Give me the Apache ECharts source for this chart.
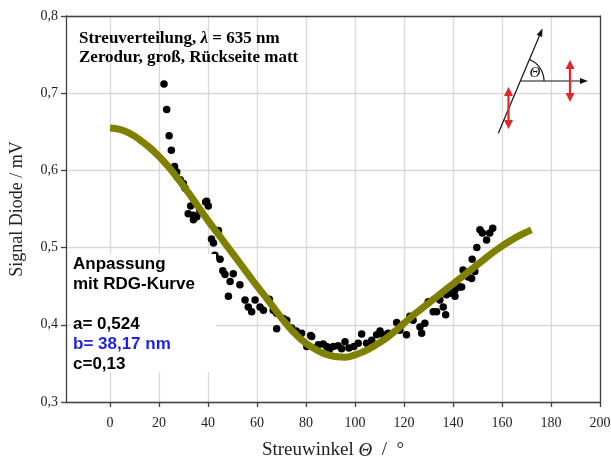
<!DOCTYPE html>
<html>
<head>
<meta charset="utf-8">
<script src="https://cdn.jsdelivr.net/npm/echarts@6/dist/echarts.min.js"></script>
<style>
html,body{margin:0;padding:0;background:#fff;}
#chart{width:611px;height:461px;}
</style>
</head>
<body>
<div id="chart"></div>
<script>
// Measured scatter points: scattering angle (deg) and diode signal (mV)
const angleDeg = [22.0,23.1,24.1,25.0,26.3,27.2,28.6,29.9,30.6,31.9,32.9,34.0,34.0,35.4,36.6,39.0,39.4,40.1,41.4,42.2,42.8,44.2,44.9,46.0,46.9,48.3,49.0,50.3,53.0,55.1,56.4,57.8,59.2,61.2,62.6,65.0,66.6,68.0,68.0,70.7,72.1,74.1,76.0,78.2,80.3,81.9,82.3,84.0,85.0,87.0,88.4,89.5,91.1,93.1,94.5,95.9,97.5,99.5,101.3,102.7,104.7,106.8,108.8,110.2,111.5,113.5,117.0,118.3,121.0,122.4,123.7,126.5,127.2,128.5,129.9,131.9,133.3,134.6,136.0,137.0,137.3,139.4,140.8,140.8,141.4,142.8,143.5,144.1,146.2,147.6,147.8,148.9,149.7,151.0,152.0,153.7,155.0,156.2];
const signal = [0.712,0.679,0.645,0.626,0.605,0.598,0.588,0.583,0.577,0.544,0.554,0.542,0.536,0.540,0.548,0.559,0.560,0.554,0.511,0.506,0.490,0.522,0.485,0.470,0.465,0.437,0.456,0.466,0.452,0.432,0.423,0.417,0.432,0.423,0.419,0.433,0.419,0.415,0.395,0.408,0.406,0.396,0.392,0.389,0.372,0.386,0.385,0.370,0.374,0.375,0.372,0.368,0.372,0.373,0.369,0.378,0.370,0.372,0.376,0.388,0.376,0.380,0.387,0.392,0.387,0.389,0.403,0.393,0.387,0.411,0.406,0.397,0.389,0.402,0.430,0.417,0.417,0.432,0.423,0.413,0.439,0.441,0.445,0.437,0.452,0.449,0.449,0.471,0.462,0.460,0.485,0.469,0.500,0.523,0.519,0.510,0.519,0.525];

// RDG fit curve
const fitAngle = [0,4,8,12,16,20,24,28,32,36,40,44,48,52,56,60,64,68,72,76,80,84,88,92,96,100,104,108,112,116,120,124,128,132,136,140,144,148,152,156,160,164,168,172];
const fitSignal = [0.655,0.653,0.648,0.640,0.630,0.618,0.604,0.588,0.571,0.553,0.535,0.518,0.501,0.484,0.467,0.450,0.434,0.417,0.401,0.387,0.376,0.368,0.362,0.359,0.358,0.361,0.366,0.373,0.381,0.391,0.402,0.413,0.423,0.433,0.443,0.453,0.463,0.473,0.483,0.493,0.502,0.510,0.517,0.523];

const xTickValues = [0,20,40,60,80,100,120,140,160,180,200];
const yMin = 0.3, yMax = 0.8, yStep = 0.1;
const xMin = -18, xMax = 200;

const scatterData = angleDeg.map((a, i) => [a, signal[i]]);
const fitData = fitAngle.map((a, i) => [a, fitSignal[i]]);

const serif = 'Liberation Serif';
const axisColor = '#404040';
const gridColor = '#d9d9d9';
const red = '#e3262b';

const chart = echarts.init(document.getElementById('chart'), null, {renderer: 'canvas'});

function arrowHead(tipX, tipY, ux, uy, len, half, color) {
  const bx = tipX - ux * len, by = tipY - uy * len;
  const px = -uy, py = ux;
  return {
    type: 'polygon',
    shape: {points: [[tipX, tipY], [bx + px * half, by + py * half], [bx - px * half, by - py * half]]},
    style: {fill: color},
    silent: true, z: 100
  };
}

const slantLen = Math.hypot(43.4, 103.3);
const su = [43.4 / slantLen, -103.3 / slantLen];
const annFont = 'bold 17px "Liberation Sans"';

const graphics = [
  // title text
  {type: 'text', left: 79, top: 30, z: 100, style: {
    rich: {
      b: {fontFamily: serif, fontWeight: 'bold', fontSize: 17, fill: '#000'},
      i: {fontFamily: serif, fontWeight: 'bold', fontStyle: 'italic', fontSize: 17, fill: '#000'}
    },
    text: '{b|Streuverteilung, }{i|λ}{b| = 635 nm}'
  }},
  {type: 'text', left: 79, top: 49, z: 100, style: {
    text: 'Zerodur, groß, Rückseite matt',
    font: 'bold 17px "Liberation Serif"', fill: '#000'
  }},
  // white text box behind the fit annotation
  {type: 'rect', shape: {x: 70, y: 254, width: 146, height: 118}, style: {fill: '#fff'}, silent: true, z: 50},
  {type: 'text', left: 73, top: 256, z: 100, style: {text: 'Anpassung', font: annFont, fill: '#000'}},
  {type: 'text', left: 73, top: 276, z: 100, style: {text: 'mit RDG-Kurve', font: annFont, fill: '#000'}},
  {type: 'text', left: 73, top: 316, z: 100, style: {text: 'a= 0,524', font: annFont, fill: '#000'}},
  {type: 'text', left: 73, top: 336, z: 100, style: {text: 'b= 38,17 nm', font: annFont, fill: '#1f1fe6'}},
  {type: 'text', left: 73, top: 356, z: 100, style: {text: 'c=0,13', font: annFont, fill: '#000'}},
  // inset: scattering geometry
  {type: 'line', shape: {x1: 498.3, y1: 133.3, x2: 540.6, y2: 33}, style: {stroke: '#111', lineWidth: 1.2}, silent: true, z: 100},
  arrowHead(542.5, 28.5, su[0], su[1], 8, 3, '#111'),
  {type: 'line', shape: {x1: 521, y1: 81, x2: 582, y2: 81}, style: {stroke: '#111', lineWidth: 1.2}, silent: true, z: 100},
  arrowHead(588, 81, 1, 0, 8, 3, '#111'),
  {type: 'arc', shape: {cx: 521, cy: 81, r: 23, startAngle: -Math.atan2(103.3, 43.4), endAngle: 0, clockwise: true},
   style: {stroke: '#111', lineWidth: 1.2, fill: null}, silent: true, z: 100},
  {type: 'text', x: 535, y: 73, z: 100, style: {text: 'Θ', font: 'italic 15px "Liberation Serif"', fill: '#111', align: 'center', verticalAlign: 'middle'}},
  // red polarisation arrows
  {type: 'line', shape: {x1: 570, y1: 67, x2: 570, y2: 95}, style: {stroke: red, lineWidth: 2.2}, silent: true, z: 100},
  arrowHead(570, 60, 0, -1, 9, 4.5, red),
  arrowHead(570, 102, 0, 1, 9, 4.5, red),
  {type: 'line', shape: {x1: 508.5, y1: 94, x2: 508.5, y2: 122}, style: {stroke: red, lineWidth: 2.2}, silent: true, z: 100},
  arrowHead(508.5, 87, 0, -1, 9, 4.5, red),
  arrowHead(508.5, 129, 0, 1, 9, 4.5, red)
];

const option = {
  animation: false,
  backgroundColor: '#ffffff',
  grid: {left: 66, top: 16, right: 11, bottom: 59, containLabel: false, outerBoundsMode: 'none'},
  xAxis: [{
    type: 'value', min: xMin, max: xMax,
    name: 'Streuwinkel {i|Θ}  /  °',
    nameLocation: 'middle', nameGap: 39,
    nameTextStyle: {fontFamily: serif, fontSize: 19, color: '#222',
      rich: {i: {fontFamily: serif, fontStyle: 'italic', fontSize: 19, color: '#222'}}},
    axisLine: {show: true, onZero: false, lineStyle: {color: axisColor, width: 1.3}},
    axisTick: {show: true, customValues: xTickValues, length: 5, lineStyle: {color: axisColor, width: 1.3}},
    axisLabel: {customValues: xTickValues, fontFamily: serif, fontSize: 14, color: '#222', margin: 14},
    splitLine: {show: true, lineStyle: {color: gridColor, width: 1.3}}
  }, {
    type: 'value', position: 'top', min: xMin, max: xMax,
    axisLine: {show: true, onZero: false, lineStyle: {color: axisColor, width: 1.3}},
    axisTick: {show: false}, axisLabel: {show: false}, splitLine: {show: false}
  }],
  yAxis: [{
    type: 'value', min: yMin, max: yMax, interval: yStep,
    name: 'Signal Diode / mV',
    nameLocation: 'middle', nameGap: 40,
    nameTextStyle: {fontFamily: serif, fontSize: 18, color: '#222'},
    axisLine: {show: true, onZero: false, lineStyle: {color: axisColor, width: 1.3}},
    axisTick: {show: true, length: 5, lineStyle: {color: axisColor, width: 1.3}},
    axisLabel: {fontFamily: serif, fontSize: 14, color: '#222', margin: 8,
      formatter: v => v.toFixed(1).replace('.', ',')},
    splitLine: {show: true, lineStyle: {color: gridColor, width: 1.3}}
  }, {
    type: 'value', position: 'right', min: yMin, max: yMax, interval: yStep,
    axisLine: {show: true, onZero: false, lineStyle: {color: axisColor, width: 1.3}},
    axisTick: {show: false}, axisLabel: {show: false}, splitLine: {show: false}
  }],
  series: [{
    type: 'scatter', data: scatterData, symbol: 'circle', symbolSize: 7.5,
    itemStyle: {color: '#000', opacity: 1}, z: 2
  }, {
    type: 'line', data: fitData, smooth: true, showSymbol: false, symbol: 'none',
    lineStyle: {color: '#808000', width: 7}, z: 3
  }],
  graphic: graphics
};
chart.setOption(option);
</script>
</body>
</html>
